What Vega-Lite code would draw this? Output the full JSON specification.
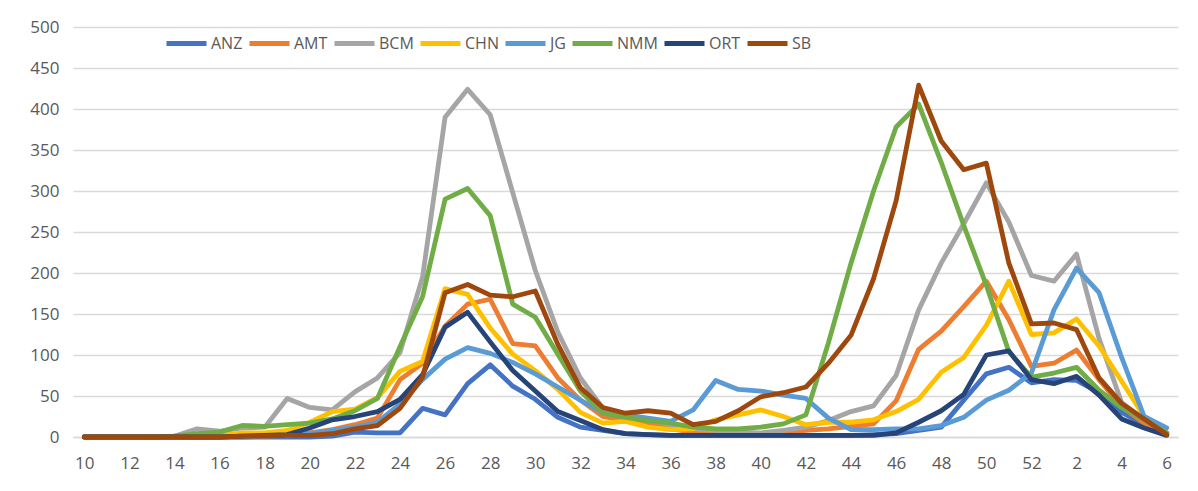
{
  "$schema": "https://vega.github.io/schema/vega-lite/v6.json",
  "width": 1105,
  "height": 410,
  "autosize": {"type": "none"},
  "padding": {"left": 73, "top": 27, "right": 20, "bottom": 54},
  "background": "white",
  "config": {"view": {"stroke": null}, "font": "Open Sans"},
  "data": {"values": [
    {"w":10,"ANZ":0,"AMT":0,"BCM":0,"CHN":0,"JG":0,"NMM":0,"ORT":0,"SB":0},
    {"w":11,"ANZ":0,"AMT":0,"BCM":0,"CHN":0,"JG":0,"NMM":0,"ORT":0,"SB":0},
    {"w":12,"ANZ":0,"AMT":0,"BCM":0,"CHN":0,"JG":0,"NMM":0,"ORT":0,"SB":0},
    {"w":13,"ANZ":0,"AMT":0,"BCM":0,"CHN":0,"JG":0,"NMM":0,"ORT":0,"SB":0},
    {"w":14,"ANZ":0,"AMT":0,"BCM":1,"CHN":0,"JG":0,"NMM":1,"ORT":0,"SB":0},
    {"w":15,"ANZ":0,"AMT":0,"BCM":10,"CHN":1,"JG":0,"NMM":4,"ORT":0,"SB":0},
    {"w":16,"ANZ":0,"AMT":0,"BCM":7,"CHN":2,"JG":0,"NMM":6,"ORT":0,"SB":0},
    {"w":17,"ANZ":0,"AMT":0,"BCM":11,"CHN":5,"JG":0,"NMM":14,"ORT":1,"SB":1},
    {"w":18,"ANZ":0,"AMT":1,"BCM":12,"CHN":5,"JG":1,"NMM":13,"ORT":2,"SB":1},
    {"w":19,"ANZ":0,"AMT":2,"BCM":47,"CHN":8,"JG":2,"NMM":15,"ORT":3,"SB":2},
    {"w":20,"ANZ":0,"AMT":5,"BCM":36,"CHN":18,"JG":4,"NMM":17,"ORT":11,"SB":2},
    {"w":21,"ANZ":1,"AMT":9,"BCM":33,"CHN":31,"JG":8,"NMM":22,"ORT":21,"SB":4},
    {"w":22,"ANZ":6,"AMT":15,"BCM":55,"CHN":34,"JG":12,"NMM":32,"ORT":25,"SB":10},
    {"w":23,"ANZ":5,"AMT":23,"BCM":72,"CHN":48,"JG":18,"NMM":47,"ORT":31,"SB":14},
    {"w":24,"ANZ":5,"AMT":70,"BCM":103,"CHN":80,"JG":40,"NMM":110,"ORT":46,"SB":35},
    {"w":25,"ANZ":35,"AMT":90,"BCM":195,"CHN":92,"JG":70,"NMM":171,"ORT":76,"SB":73},
    {"w":26,"ANZ":27,"AMT":135,"BCM":390,"CHN":181,"JG":95,"NMM":290,"ORT":134,"SB":176},
    {"w":27,"ANZ":65,"AMT":162,"BCM":424,"CHN":174,"JG":109,"NMM":303,"ORT":152,"SB":186},
    {"w":28,"ANZ":88,"AMT":168,"BCM":393,"CHN":133,"JG":102,"NMM":270,"ORT":116,"SB":173},
    {"w":29,"ANZ":62,"AMT":114,"BCM":298,"CHN":101,"JG":91,"NMM":162,"ORT":81,"SB":171},
    {"w":30,"ANZ":46,"AMT":111,"BCM":203,"CHN":81,"JG":77,"NMM":146,"ORT":56,"SB":178},
    {"w":31,"ANZ":24,"AMT":72,"BCM":128,"CHN":58,"JG":61,"NMM":101,"ORT":31,"SB":113},
    {"w":32,"ANZ":12,"AMT":45,"BCM":72,"CHN":30,"JG":45,"NMM":56,"ORT":20,"SB":60},
    {"w":33,"ANZ":8,"AMT":25,"BCM":35,"CHN":17,"JG":30,"NMM":29,"ORT":9,"SB":36},
    {"w":34,"ANZ":4,"AMT":21,"BCM":26,"CHN":19,"JG":27,"NMM":24,"ORT":4,"SB":29},
    {"w":35,"ANZ":3,"AMT":17,"BCM":21,"CHN":12,"JG":23,"NMM":20,"ORT":3,"SB":32},
    {"w":36,"ANZ":2,"AMT":10,"BCM":15,"CHN":9,"JG":19,"NMM":17,"ORT":2,"SB":29},
    {"w":37,"ANZ":2,"AMT":6,"BCM":10,"CHN":10,"JG":33,"NMM":12,"ORT":2,"SB":15},
    {"w":38,"ANZ":2,"AMT":5,"BCM":8,"CHN":21,"JG":69,"NMM":10,"ORT":2,"SB":19},
    {"w":39,"ANZ":2,"AMT":5,"BCM":6,"CHN":27,"JG":58,"NMM":10,"ORT":2,"SB":32},
    {"w":40,"ANZ":2,"AMT":4,"BCM":5,"CHN":33,"JG":56,"NMM":12,"ORT":2,"SB":49},
    {"w":41,"ANZ":2,"AMT":5,"BCM":8,"CHN":25,"JG":51,"NMM":16,"ORT":2,"SB":54},
    {"w":42,"ANZ":2,"AMT":8,"BCM":12,"CHN":15,"JG":47,"NMM":27,"ORT":2,"SB":61},
    {"w":43,"ANZ":2,"AMT":10,"BCM":20,"CHN":18,"JG":23,"NMM":115,"ORT":2,"SB":90},
    {"w":44,"ANZ":2,"AMT":13,"BCM":31,"CHN":18,"JG":9,"NMM":212,"ORT":2,"SB":124},
    {"w":45,"ANZ":3,"AMT":16,"BCM":38,"CHN":21,"JG":9,"NMM":300,"ORT":2,"SB":193},
    {"w":46,"ANZ":4,"AMT":44,"BCM":75,"CHN":31,"JG":10,"NMM":378,"ORT":5,"SB":288},
    {"w":47,"ANZ":8,"AMT":107,"BCM":155,"CHN":46,"JG":10,"NMM":406,"ORT":18,"SB":429},
    {"w":48,"ANZ":12,"AMT":129,"BCM":212,"CHN":79,"JG":14,"NMM":335,"ORT":32,"SB":361},
    {"w":49,"ANZ":45,"AMT":159,"BCM":260,"CHN":97,"JG":24,"NMM":258,"ORT":52,"SB":326},
    {"w":50,"ANZ":77,"AMT":190,"BCM":310,"CHN":136,"JG":45,"NMM":185,"ORT":100,"SB":334},
    {"w":51,"ANZ":85,"AMT":143,"BCM":262,"CHN":190,"JG":57,"NMM":104,"ORT":105,"SB":212},
    {"w":52,"ANZ":66,"AMT":86,"BCM":197,"CHN":125,"JG":78,"NMM":73,"ORT":70,"SB":138},
    {"w":1,"ANZ":70,"AMT":90,"BCM":190,"CHN":127,"JG":155,"NMM":78,"ORT":65,"SB":139},
    {"w":2,"ANZ":69,"AMT":106,"BCM":223,"CHN":144,"JG":206,"NMM":85,"ORT":74,"SB":131},
    {"w":3,"ANZ":54,"AMT":70,"BCM":120,"CHN":111,"JG":176,"NMM":57,"ORT":51,"SB":72},
    {"w":4,"ANZ":30,"AMT":37,"BCM":42,"CHN":68,"JG":97,"NMM":36,"ORT":22,"SB":41},
    {"w":5,"ANZ":15,"AMT":17,"BCM":21,"CHN":25,"JG":25,"NMM":21,"ORT":11,"SB":22},
    {"w":6,"ANZ":3,"AMT":3,"BCM":5,"CHN":5,"JG":11,"NMM":5,"ORT":2,"SB":3}
  ]},
  "transform": [{"fold": ["ANZ","AMT","BCM","CHN","JG","NMM","ORT","SB"], "as": ["series","value"]}],
  "mark": {"type": "line", "strokeWidth": 4.8, "strokeJoin": "round", "strokeCap": "round"},
  "encoding": {
    "x": {
      "field": "w", "type": "ordinal",
      "scale": {"domain": [10,11,12,13,14,15,16,17,18,19,20,21,22,23,24,25,26,27,28,29,30,31,32,33,34,35,36,37,38,39,40,41,42,43,44,45,46,47,48,49,50,51,52,1,2,3,4,5,6], "padding": 0.5},
      "axis": {
        "title": null, "values": [10,12,14,16,18,20,22,24,26,28,30,32,34,36,38,40,42,44,46,48,50,52,2,4,6],
        "labelAngle": 0, "labelFontSize": 17, "labelColor": "#595959", "labelPadding": 18,
        "ticks": false, "grid": false, "domain": true, "domainColor": "#D9D9D9", "domainWidth": 1.5
      }
    },
    "y": {
      "field": "value", "type": "quantitative",
      "scale": {"domain": [0, 500], "nice": false},
      "axis": {
        "title": null, "values": [0,50,100,150,200,250,300,350,400,450,500],
        "labelFontSize": 17, "labelColor": "#595959", "labelPadding": 14,
        "ticks": false, "domain": false, "grid": true, "gridColor": "#D9D9D9", "gridWidth": 1.5
      }
    },
    "color": {
      "field": "series", "type": "nominal",
      "scale": {"domain": ["ANZ","AMT","BCM","CHN","JG","NMM","ORT","SB"], "range": ["#4472C4","#ED7D31","#A5A5A5","#FFC000","#5B9BD5","#70AD47","#264478","#9E480E"]},
      "legend": {
        "title": null, "orient": "none", "legendX": 91, "legendY": -6, "direction": "horizontal",
        "gridAlign": "none",
        "symbolType": "stroke", "symbolSize": 1600, "symbolStrokeWidth": 4.8,
        "labelFontSize": 16, "labelColor": "#595959", "labelOffset": 2, "columnPadding": -4
      }
    }
  }
}
